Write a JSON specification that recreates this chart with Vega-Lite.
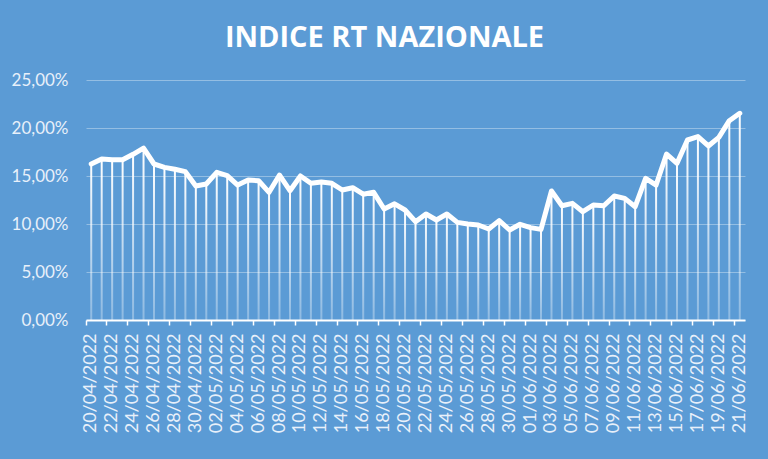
{
  "$schema": "https://vega.github.io/schema/vega-lite/v6.json",
  "width": 659,
  "height": 240,
  "autosize": "none",
  "padding": {"left": 86, "top": 80, "right": 23, "bottom": 139},
  "background": "#5B9BD5",
  "title": {"text": "INDICE RT NAZIONALE", "color": "white", "fontSize": 29, "font": "Open Sans", "fontWeight": "bold", "anchor": "middle", "dx": -31, "offset": 18},
  "config": {"view": {"stroke": null}},
  "data": {"values": [
    {"data": "20/04/2022", "rt": 0.1625},
    {"data": "21/04/2022", "rt": 0.1677},
    {"data": "22/04/2022", "rt": 0.1670},
    {"data": "23/04/2022", "rt": 0.1670},
    {"data": "24/04/2022", "rt": 0.1726},
    {"data": "25/04/2022", "rt": 0.1790},
    {"data": "26/04/2022", "rt": 0.1625},
    {"data": "27/04/2022", "rt": 0.1590},
    {"data": "28/04/2022", "rt": 0.1570},
    {"data": "29/04/2022", "rt": 0.1545},
    {"data": "30/04/2022", "rt": 0.1396},
    {"data": "01/05/2022", "rt": 0.1417},
    {"data": "02/05/2022", "rt": 0.1538},
    {"data": "03/05/2022", "rt": 0.1503},
    {"data": "04/05/2022", "rt": 0.1406},
    {"data": "05/05/2022", "rt": 0.1458},
    {"data": "06/05/2022", "rt": 0.1450},
    {"data": "07/05/2022", "rt": 0.1330},
    {"data": "08/05/2022", "rt": 0.1510},
    {"data": "09/05/2022", "rt": 0.1347},
    {"data": "10/05/2022", "rt": 0.1500},
    {"data": "11/05/2022", "rt": 0.1424},
    {"data": "12/05/2022", "rt": 0.1438},
    {"data": "13/05/2022", "rt": 0.1424},
    {"data": "14/05/2022", "rt": 0.1354},
    {"data": "15/05/2022", "rt": 0.1378},
    {"data": "16/05/2022", "rt": 0.1310},
    {"data": "17/05/2022", "rt": 0.1330},
    {"data": "18/05/2022", "rt": 0.1156},
    {"data": "19/05/2022", "rt": 0.1210},
    {"data": "20/05/2022", "rt": 0.1146},
    {"data": "21/05/2022", "rt": 0.1024},
    {"data": "22/05/2022", "rt": 0.1104},
    {"data": "23/05/2022", "rt": 0.1042},
    {"data": "24/05/2022", "rt": 0.1104},
    {"data": "25/05/2022", "rt": 0.1017},
    {"data": "26/05/2022", "rt": 0.1000},
    {"data": "27/05/2022", "rt": 0.0990},
    {"data": "28/05/2022", "rt": 0.0948},
    {"data": "29/05/2022", "rt": 0.1035},
    {"data": "30/05/2022", "rt": 0.0938},
    {"data": "31/05/2022", "rt": 0.0997},
    {"data": "01/06/2022", "rt": 0.0962},
    {"data": "02/06/2022", "rt": 0.0944},
    {"data": "03/06/2022", "rt": 0.1344},
    {"data": "04/06/2022", "rt": 0.1190},
    {"data": "05/06/2022", "rt": 0.1215},
    {"data": "06/06/2022", "rt": 0.1128},
    {"data": "07/06/2022", "rt": 0.1198},
    {"data": "08/06/2022", "rt": 0.1190},
    {"data": "09/06/2022", "rt": 0.1292},
    {"data": "10/06/2022", "rt": 0.1267},
    {"data": "11/06/2022", "rt": 0.1180},
    {"data": "12/06/2022", "rt": 0.1476},
    {"data": "13/06/2022", "rt": 0.1406},
    {"data": "14/06/2022", "rt": 0.1729},
    {"data": "15/06/2022", "rt": 0.1632},
    {"data": "16/06/2022", "rt": 0.1875},
    {"data": "17/06/2022", "rt": 0.1910},
    {"data": "18/06/2022", "rt": 0.1813},
    {"data": "19/06/2022", "rt": 0.1903},
    {"data": "20/06/2022", "rt": 0.2076},
    {"data": "21/06/2022", "rt": 0.2153}
  ]},
  "encoding": {
    "x": {
      "field": "data", "type": "ordinal", "sort": null,
      "scale": {"type": "band", "paddingInner": 0, "paddingOuter": 0},
      "axis": {
        "title": null,
        "values": ["20/04/2022","22/04/2022","24/04/2022","26/04/2022","28/04/2022","30/04/2022","02/05/2022","04/05/2022","06/05/2022","08/05/2022","10/05/2022","12/05/2022","14/05/2022","16/05/2022","18/05/2022","20/05/2022","22/05/2022","24/05/2022","26/05/2022","28/05/2022","30/05/2022","01/06/2022","03/06/2022","05/06/2022","07/06/2022","09/06/2022","11/06/2022","13/06/2022","15/06/2022","17/06/2022","19/06/2022","21/06/2022"],
        "labelAngle": -90,
        "labelColor": "#E8F0FA",
        "labelFont": "Lato",
        "labelFontSize": 18,
        "labelPadding": 8,
        "domainColor": "white",
        "domainWidth": 2,
        "tickColor": "white",
        "tickWidth": 1.5,
        "tickSize": 5,
        "bandPosition": 0,
        "grid": false
      }
    },
    "y": {
      "field": "rt", "type": "quantitative",
      "scale": {"domain": [0, 0.25], "nice": false},
      "axis": {
        "title": null,
        "values": [0, 0.05, 0.1, 0.15, 0.2, 0.25],
        "labelExpr": "replace(format(datum.value, '.2%'), '.', ',')",
        "domain": false,
        "ticks": false,
        "gridColor": "white",
        "gridOpacity": 0.35,
        "labelColor": "#E8F0FA",
        "labelFont": "Lato",
        "labelFontSize": 17,
        "labelPadding": 18
      }
    }
  },
  "layer": [
    {
      "mark": {
        "type": "bar", "size": 2,
        "fill": {"gradient": "linear", "x1": 0, "y1": 0, "x2": 0, "y2": 1,
          "stops": [{"offset": 0, "color": "#FFFFFF"}, {"offset": 1, "color": "rgba(255,255,255,0.3)"}]}
      }
    },
    {
      "mark": {"type": "line", "color": "white", "strokeWidth": 5, "strokeJoin": "round", "strokeCap": "round"}
    }
  ]
}
